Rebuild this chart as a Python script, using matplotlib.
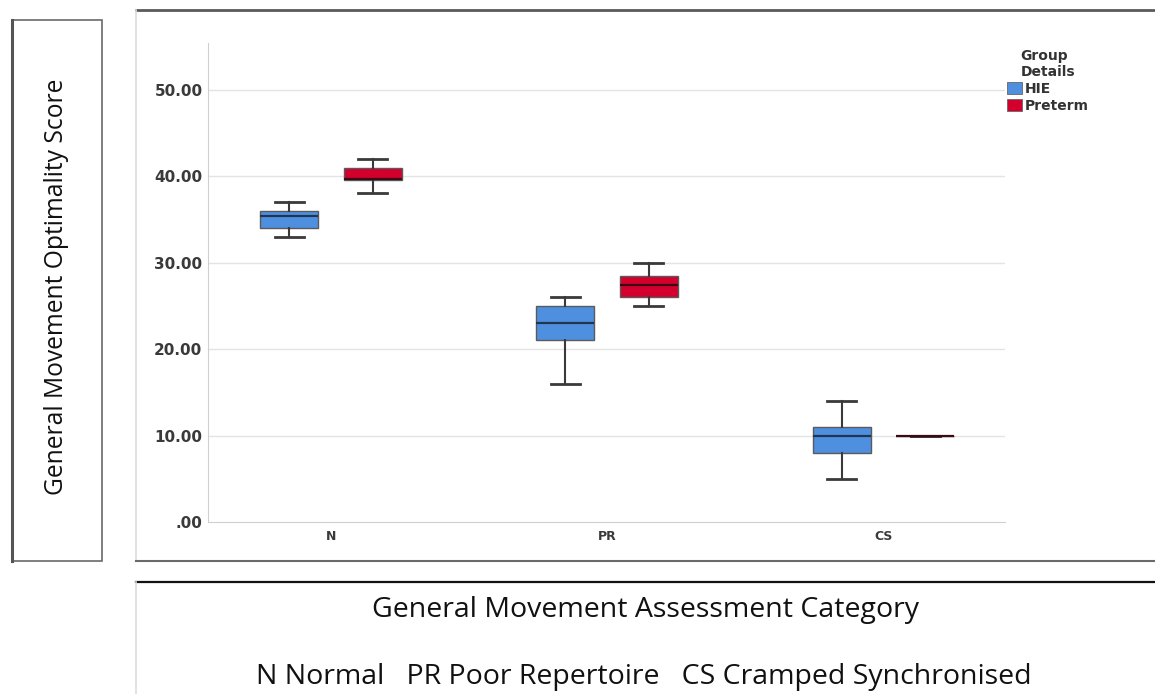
import matplotlib
matplotlib.use("Agg")
import matplotlib.pyplot as plt
from matplotlib.lines import Line2D
from matplotlib.patches import Rectangle, Patch
from matplotlib.ticker import FuncFormatter

# summary statistics per category (N, PR, CS) for each group
categories = ["N", "PR", "CS"]
groups = ["HIE", "Preterm"]

hie_whislo = [33, 16, 5]
hie_q1 = [34, 21, 8]
hie_med = [35.4, 23, 10]
hie_q3 = [36, 25, 11]
hie_whishi = [37, 26, 14]

pre_whislo = [38, 25, 10]
pre_q1 = [39.5, 26, 10]
pre_med = [39.7, 27.4, 10]
pre_q3 = [41, 28.5, 10]
pre_whishi = [42, 30, 10]

yticks = [0, 10, 20, 30, 40, 50]

W, H = 1155, 694
fig = plt.figure(figsize=(W / 100, H / 100), dpi=100)


def px(x, y):
    return x / W, 1 - y / H


def hline(x0, x1, y, color, lw):
    fig.add_artist(Line2D([x0 / W, x1 / W], [1 - y / H, 1 - y / H],
                          transform=fig.transFigure, color=color, lw=lw))


def vline(x, y0, y1, color, lw):
    fig.add_artist(Line2D([x / W, x / W], [1 - y0 / H, 1 - y1 / H],
                          transform=fig.transFigure, color=color, lw=lw))


def stats(lo, q1, med, q3, hi):
    out = []
    for a, b, c, d, e in zip(lo, q1, med, q3, hi):
        out.append(dict(whislo=a, q1=b, med=c, q3=d, whishi=e, fliers=[]))
    return out


l, b = px(208, 522)
r, t = px(1005, 43)
ax = fig.add_axes([l, b, r - l, t - b])

x = list(range(len(categories)))
off = 0.151
colors = {"HIE": "#4f8fe0", "Preterm": "#d3002e"}
medcol = {"HIE": "#1f3550", "Preterm": "#3c0a12"}

for g, st in [("HIE", stats(hie_whislo, hie_q1, hie_med, hie_q3, hie_whishi)),
              ("Preterm", stats(pre_whislo, pre_q1, pre_med, pre_q3, pre_whishi))]:
    pos = [i - off if g == "HIE" else i + off for i in x]
    ax.bxp(st, positions=pos, widths=0.21, capwidths=0.105, patch_artist=True,
           showfliers=False,
           boxprops=dict(facecolor=colors[g], edgecolor="#5a5a5a", lw=1),
           medianprops=dict(color=medcol[g], lw=1.6),
           whiskerprops=dict(color="#3a3a3a", lw=1.5),
           capprops=dict(color="#3a3a3a", lw=2))

for v in yticks[1:]:
    ax.axhline(v, color="#e4e4e4", lw=1, zorder=0)

ax.set_xlim(-0.445, 2.44)
ax.set_ylim(0, 55.4)
ax.set_xticks(x)
ax.set_xticklabels(categories, fontweight="bold")
ax.set_yticks(yticks)
ax.yaxis.set_major_formatter(FuncFormatter(lambda v, p: ".00" if v == 0 else "%.2f" % v))
for lab in ax.get_yticklabels():
    lab.set_fontweight("bold")
ax.tick_params(length=0, colors="#3a3a3a", labelsize=11)
ax.tick_params(axis="x", pad=6, labelsize=9)
ax.tick_params(axis="y", pad=4)
for s in ["top", "right"]:
    ax.spines[s].set_visible(False)
for s in ["left", "bottom"]:
    ax.spines[s].set_color("#cfcfcf")

handles = [Patch(facecolor=colors[g], edgecolor="#666666", lw=0.6) for g in groups]
leg = fig.legend(handles, groups, loc="upper left", bbox_to_anchor=px(1007, 49),
                 frameon=False, handlelength=1.1, handleheight=0.9,
                 handletextpad=0.15, labelspacing=0.2, borderaxespad=0, borderpad=0,
                 prop={"weight": "bold", "size": 10},
                 title="Group\nDetails",
                 title_fontproperties={"weight": "bold", "size": 10})
for txt in leg.get_texts():
    txt.set_color("#333333")
leg.get_title().set_color("#333333")

# frames around the chart and the caption panels
fig.add_artist(Rectangle(px(12, 561), 90 / W, 541 / H, transform=fig.transFigure,
                         fill=False, edgecolor="#6a6a6a", lw=1.2))
vline(12, 20, 561, "#555555", 2.2)
hline(136, W, 10, "#5a5a5a", 2)
vline(136, 10, 561, "#dcdcdc", 1.2)
hline(136, W, 561, "#6a6a6a", 1.5)
hline(136, W, 582, "#111111", 1.6)
vline(136, 582, H, "#dcdcdc", 1.2)

fig.text(*px(57, 287), "General Movement Optimality Score", rotation=90,
         ha="center", va="center", fontsize=17.7, family="Open Sans", color="#111111")
fig.text(*px(645, 610), "General Movement Assessment Category",
         ha="center", va="center", fontsize=20.5, family="Open Sans", color="#111111")
fig.text(*px(644, 677), "N Normal   PR Poor Repertoire   CS Cramped Synchronised",
         ha="center", va="center", fontsize=20.5, family="Open Sans", color="#111111")

fig.savefig("out.png", dpi=100)
